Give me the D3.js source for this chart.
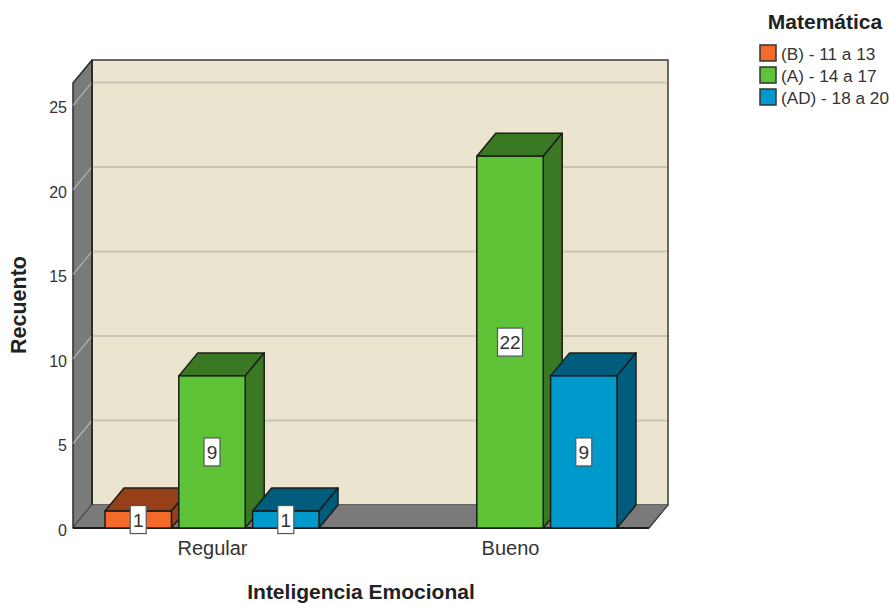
<!DOCTYPE html>
<html><head><meta charset="utf-8">
<script src="https://cdn.jsdelivr.net/npm/d3@7/dist/d3.min.js"></script>
<style>html,body{margin:0;padding:0;background:#fff}svg{display:block}text{font-family:"Liberation Sans",Arial,sans-serif}</style>
</head><body><svg id="c" width="889" height="604"></svg>
<script>
const categories = ["Regular","Bueno"];
const seriesNames = ["(B) - 11 a 13","(A) - 14 a 17","(AD) - 18 a 20"];
const valuesB = [1,null];
const valuesA = [9,22];
const valuesAD = [1,9];
const yTicks = [0,5,10,15,20,25];
const frontColors = ["#f36a2b","#5ec336","#0099cc"];
const topColors = ["#96401a","#3b7823","#005c7d"];
const sideColors = ["#96401a","#3b7823","#005c7d"];
const allValues = [valuesB,valuesA,valuesAD];

const svg = d3.select("#c");
const dx = 19, dy = -23;
const y = d3.scaleLinear().domain([0,26.33]).range([528,83]);
const x0 = d3.scalePoint().domain(categories).range([212,510]);
const x1 = d3.scaleBand().domain(seriesNames).range([-107,107]).paddingInner(0.1);
const L = 73, R = 649, B = y(0), T = y.range()[1];
const ink = "#1c1c1c";
const poly = (pts,fill,stroke,sw=1.5)=>svg.append("polygon").attr("points",pts.map(p=>p.join(",")).join(" "))
  .attr("fill",fill).attr("stroke",stroke).attr("stroke-width",sw).attr("stroke-linejoin","round");

// walls
poly([[L+dx,T+dy],[R+dx,T+dy],[R+dx,B+dy],[L+dx,B+dy]],"#ebe5d0","#3a3a3a",1.5);
poly([[L,T],[L+dx,T+dy],[L+dx,B+dy],[L,B]],"#7a7a7a","#2a2a2a",1.5);
poly([[L,B],[L+dx,B+dy],[R+dx,B+dy],[R,B]],"#7a7a7a","none",0);

// grid lines on back and side wall
yTicks.filter(t=>t>0).forEach(t=>{
  svg.append("line").attr("x1",L+dx+1).attr("x2",R+dx-1).attr("y1",y(t)+dy).attr("y2",y(t)+dy)
    .attr("stroke","#c9c5b6").attr("stroke-width",2);
  svg.append("line").attr("x1",L).attr("x2",L+dx).attr("y1",y(t)).attr("y2",y(t)+dy)
    .attr("stroke","#b4b4b0").attr("stroke-width",1.2);
});
svg.append("line").attr("x1",L+dx).attr("x2",L+dx).attr("y1",T+dy).attr("y2",B+dy).attr("stroke","#2a2a2a").attr("stroke-width",1.5);
svg.append("line").attr("x1",L).attr("x2",R).attr("y1",B).attr("y2",B).attr("stroke","#1c1c1c").attr("stroke-width",2);
svg.append("line").attr("x1",R).attr("x2",R+dx).attr("y1",B).attr("y2",B+dy).attr("stroke","#333").attr("stroke-width",1.2);

// bars
const labels = [];
categories.forEach((c,ci)=>{
  seriesNames.forEach((s,si)=>{
    const v = allValues[si][ci];
    if (v==null) return;
    const xl = x0(c)+x1(s), xr = xl+x1.bandwidth(), yt = y(v);
    poly([[xl,yt],[xl+dx,yt+dy],[xr+dx,yt+dy],[xr,yt]],topColors[si],ink);
    poly([[xr,yt],[xr+dx,yt+dy],[xr+dx,B+dy],[xr,B]],sideColors[si],ink);
    svg.append("rect").attr("x",xl).attr("y",yt).attr("width",xr-xl).attr("height",B-yt)
      .attr("fill",frontColors[si]).attr("stroke",ink).attr("stroke-width",1.5);
    labels.push({v,x:(xl+xr)/2,y:(yt+B)/2});
  });
});
// value labels
labels.forEach(l=>{
  const w = String(l.v).length>1 ? 25 : 16;
  svg.append("rect").attr("x",l.x-w/2).attr("y",l.y-14).attr("width",w).attr("height",28)
    .attr("fill","#fff").attr("stroke","#555").attr("stroke-width",1.2);
  svg.append("text").attr("x",l.x).attr("y",l.y+7).attr("text-anchor","middle")
    .attr("font-size",19).attr("fill","#333").text(l.v);
});

// axes
const yAxis = svg.append("g").attr("transform",`translate(${L-3},2)`)
  .call(d3.axisLeft(y).tickValues(yTicks).tickSize(0).tickPadding(3));
yAxis.select(".domain").remove();
yAxis.selectAll("text").attr("font-size",16).attr("fill","#333").style("font-family",'"Liberation Sans",Arial,sans-serif');
const xAxis = svg.append("g").attr("transform",`translate(0,${B+9})`)
  .call(d3.axisBottom(x0).tickSize(0).tickPadding(4));
xAxis.select(".domain").remove();
xAxis.selectAll("text").attr("font-size",20).attr("fill","#333").style("font-family",'"Liberation Sans",Arial,sans-serif');

svg.append("text").attr("x",361).attr("y",599).attr("text-anchor","middle")
  .attr("font-size",21).attr("font-weight","bold").attr("fill","#222").text("Inteligencia Emocional");
svg.append("text").attr("transform","translate(26,305) rotate(-90)").attr("text-anchor","middle")
  .attr("font-size",21.5).attr("font-weight","bold").attr("fill","#222").text("Recuento");

// legend
svg.append("text").attr("x",825).attr("y",29).attr("text-anchor","middle")
  .attr("font-size",21).attr("font-weight","bold").attr("fill","#222").text("Matemática");
seriesNames.forEach((s,i)=>{
  const ly = 45+i*22;
  svg.append("rect").attr("x",760).attr("y",ly).attr("width",16).attr("height",16)
    .attr("fill",frontColors[i]).attr("stroke","#333").attr("stroke-width",1.5);
  svg.append("text").attr("x",781).attr("y",ly+15).attr("font-size",17.2).attr("fill","#333").text(s);
});
</script></body></html>
